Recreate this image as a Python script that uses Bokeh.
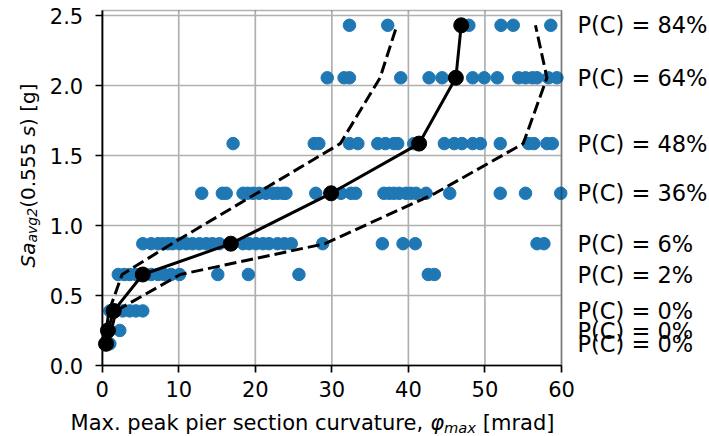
import math
from bokeh.plotting import figure
from bokeh.models import Range1d, FixedTicker, Label, NumeralTickFormatter, BoxAnnotation
from bokeh.embed import file_html
from bokeh.resources import INLINE

# ---------------- data ----------------
levels = [0.155, 0.25, 0.39, 0.65, 0.87, 1.23, 1.585, 2.055, 2.43]

row_0155 = [0.5, 1.0]
row_025 = [0.7, 2.3]
row_039 = [1.0, 1.6, 2.7, 3.6, 4.4, 5.3]
row_065 = [2.1, 2.9, 3.6, 4.4, 5.3, 6.4, 7.3, 8.1, 9.0, 10.1, 15.1, 19.1, 25.7, 42.6, 43.4]
row_087 = [5.3, 6.4, 7.3, 7.9, 8.6, 9.2, 10.1, 11.0, 11.8, 12.7, 13.6, 14.4, 15.3, 16.8,
           18.4, 19.2, 20.1, 21.0, 21.8, 22.9, 23.8, 24.7, 28.8, 36.6, 39.3, 40.9, 56.8, 57.7]
row_123 = [13.0, 15.7, 16.2, 18.4, 19.0, 19.7, 20.5, 21.4, 22.3, 22.9, 23.6, 24.0, 27.9, 29.9,
           31.2, 32.5, 33.1, 36.8, 37.5, 38.1, 38.8, 39.7, 40.3, 41.0, 42.3, 45.4, 52.0, 55.3, 59.9]
row_159 = [17.1, 27.7, 28.3, 32.3, 33.4, 36.0, 37.0, 38.1, 38.6, 40.7, 41.4, 44.7, 46.0, 47.0,
           48.4, 49.4, 52.0, 55.7, 56.4, 58.1, 58.8]
row_206 = [29.4, 31.6, 32.3, 39.0, 42.7, 44.4, 46.2, 48.4, 49.9, 51.6, 54.4, 55.3, 56.2, 56.8,
           58.3, 59.4]
row_243 = [32.3, 37.3, 46.9, 47.9, 52.1, 53.7, 58.6]
rows = [row_0155, row_025, row_039, row_065, row_087, row_123, row_159, row_206, row_243]

medians = [0.5, 0.75, 1.5, 5.3, 16.8, 29.9, 41.4, 46.2, 46.9]
p16 = [0.3, 0.5, 0.9, 2.6, 9.1, 20.2, 31.1, 36.3, 38.5]
p84 = [0.8, 1.2, 1.8, 10.2, 29.1, 43.5, 55.0, 58.1, 56.6]
pc_values = ["0%", "0%", "0%", "2%", "6%", "36%", "48%", "64%", "84%"]

x_ticks = [0, 10, 20, 30, 40, 50, 60]
y_ticks = [0.0, 0.5, 1.0, 1.5, 2.0, 2.5]

# ---------------- layout (pixel geometry of the axes box) ----------------
W, H = 709, 436
FL, FR = 101.7, 561.0          # x = 0 and x = 60
Y0, Y25, FT = 365.0, 15.0, 10.0  # y = 0, y = 2.5, top spine
XMAX = 60.0
PXX = (FR - FL) / XMAX
PXY = (Y0 - Y25) / 2.5
YMAX = (Y0 - FT) / PXY
FONT = "DejaVu Sans"
F = 21


def X(px):
    return (px - FL) / PXX


def Y(py):
    return (Y0 - py) / PXY


p = figure(width=W, height=H, x_range=Range1d(X(0), X(W)), y_range=Range1d(Y(H), Y(0)),
           output_backend="svg", toolbar_location=None, min_border=0,
           min_border_left=0, min_border_right=0, min_border_top=0, min_border_bottom=0)
p.background_fill_color = "white"
p.border_fill_color = "white"
p.outline_line_color = None
p.grid.visible = False

# grid lines (behind data)
p.segment(x0=x_ticks, y0=[0] * len(x_ticks), x1=x_ticks, y1=[YMAX] * len(x_ticks),
          line_color="#b0b0b0", line_width=1.7, level="underlay")
p.segment(x0=[0] * len(y_ticks), y0=y_ticks, x1=[XMAX] * len(y_ticks), y1=y_ticks,
          line_color="#b0b0b0", line_width=1.7, level="underlay")

for ax in (p.xaxis[0], p.yaxis[0]):
    ax.fixed_location = 0
    ax.axis_line_color = "black"
    ax.axis_line_width = 1.7
    ax.major_tick_line_color = "black"
    ax.major_tick_line_width = 1.7
    ax.major_tick_out = 7
    ax.major_tick_in = 0
    ax.minor_tick_out = 0
    ax.minor_tick_in = 0
    ax.major_label_text_font = FONT
    ax.major_label_text_font_size = f"{F}px"
    ax.major_label_text_color = "black"
p.xaxis.bounds = (0, XMAX)
p.yaxis.bounds = (0, YMAX)
p.xaxis.ticker = FixedTicker(ticks=x_ticks)
p.yaxis.ticker = FixedTicker(ticks=y_ticks)
p.xaxis.formatter = NumeralTickFormatter(format="0")
p.yaxis.formatter = NumeralTickFormatter(format="0.0")
p.xaxis.major_label_standoff = 8
p.yaxis.major_label_standoff = 12

# ---------------- marks ----------------
xs, ys = [], []
for lvl, row in zip(levels, rows):
    xs.extend(row)
    ys.extend([lvl] * len(row))
p.scatter(xs, ys, size=12.5, fill_color="#1f77b4", line_color="#1f77b4")

p.line(p16, levels, line_color="black", line_width=3, line_dash="12 5")
p.line(p84, levels, line_color="black", line_width=3, line_dash="12 5")
p.line(medians, levels, line_color="black", line_width=3)
p.scatter(medians, levels, size=15, fill_color="black", line_color="black")

# spines
p.add_layout(BoxAnnotation(left=0, right=XMAX, bottom=0, top=YMAX, fill_alpha=0,
                           line_color="black", line_width=1.7))

for lvl, pc in zip(levels, pc_values):
    p.add_layout(Label(x=X(577), y=lvl, text=f"P(C) = {pc}", text_font=FONT,
                       text_font_size="22.5px", text_color="black",
                       text_align="left", text_baseline="middle"))

# ---------------- axis titles with sub-scripts ----------------
EM = {' ': .318, '.': .318, ',': .318, '(': .390, ')': .390, '[': .390, ']': .390,
      'M': .863, 'S': .635, 'a': .613, 'c': .550, 'd': .635, 'e': .615, 'g': .635,
      'i': .278, 'k': .579, 'm': .974, 'n': .634, 'o': .612, 'p': .635, 'r': .411,
      's': .521, 't': .392, 'u': .634, 'v': .592, 'x': .592, 'φ': .656}


def tw(s, size):
    return sum(EM.get(c, .636) for c in s) * size


def place(pieces, vertical, center, base):
    total = sum(tw(t, s) for t, _, s, _ in pieces)
    pos = center - total / 2 if not vertical else center + total / 2
    for txt, style, size, shift in pieces:
        lead = tw(txt[:len(txt) - len(txt.lstrip(' '))], size)
        s = txt.strip(' ')
        if vertical:
            lab = Label(x=X(base + shift), y=Y(pos - lead), angle=math.pi / 2,
                        text=s, text_font=FONT, text_font_size=f"{size}px",
                        text_font_style=style, text_color="black",
                        text_align="left", text_baseline="alphabetic")
            pos -= tw(txt, size)
        else:
            lab = Label(x=X(pos + lead), y=Y(base + shift), text=s,
                        text_font=FONT, text_font_size=f"{size}px",
                        text_font_style=style, text_color="black",
                        text_align="left", text_baseline="alphabetic")
            pos += tw(txt, size)
        p.add_layout(lab)


FXT = 21
FYT = 20
x_pieces = [("Max. peak pier section curvature, ", "normal", FXT, 0),
            ("φ", "italic", FXT, 0),
            ("max", "italic", 0.7 * FXT, 4.5),
            (" [mrad]", "normal", FXT, 0)]
y_pieces = [("Sa", "italic", FYT, 0),
            ("avg2", "italic", 0.7 * FYT, 4.3),
            ("(0.555 ", "normal", FYT, 0),
            ("s", "italic", FYT, 0),
            (") [g]", "normal", FYT, 0)]

place(x_pieces, False, 312, 422)
place(y_pieces, True, 175, 27)

open("out.html", "w").write(file_html(p, INLINE))
